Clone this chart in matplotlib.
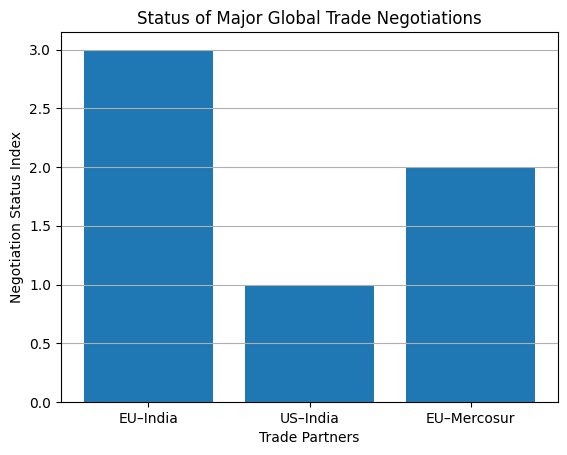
import matplotlib
matplotlib.use("Agg")
import matplotlib.pyplot as plt

partners = ['EU–India', 'US–India', 'EU–Mercosur']
status_index = [3, 1, 2]

fig = plt.figure(figsize=(5.67, 4.55), dpi=100)
ax = fig.add_axes([61 / 567, 53 / 455, 497 / 567, 370 / 455])
ax.bar(partners, status_index, color='#1f77b4')
ax.yaxis.grid(True)
ax.set_xlabel('Trade Partners')
ax.set_ylabel('Negotiation Status Index')
ax.set_title('Status of Major Global Trade Negotiations')
fig.savefig('out.png', dpi=100)
